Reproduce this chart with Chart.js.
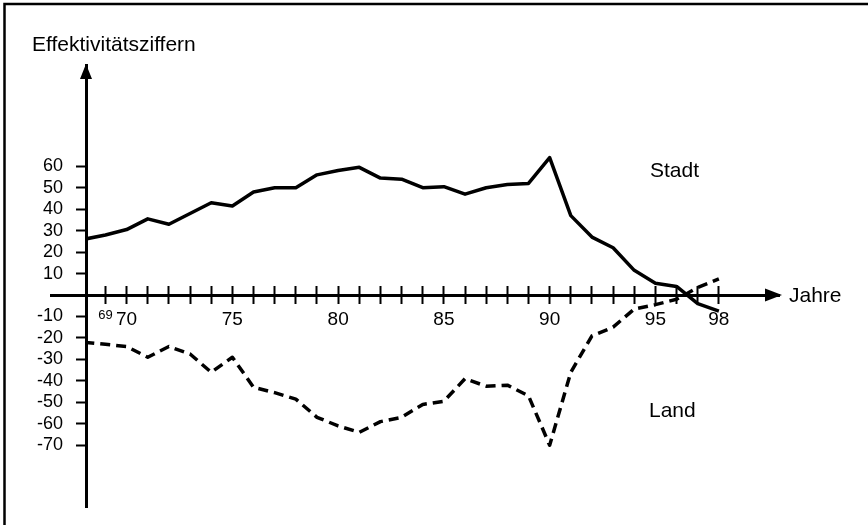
<!DOCTYPE html>
<html>
<head>
<meta charset="utf-8">
<script src="https://cdn.jsdelivr.net/npm/chart.js@4.4.0/dist/chart.umd.min.js"></script>
<style>
  html, body { margin: 0; padding: 0; background: #fff; }
  canvas { display: block; }
</style>
</head>
<body>
<canvas id="chart" width="868" height="525"></canvas>
<script>
// values (years 1968 - 1998)
var years = [68, 69, 70, 71, 72, 73, 74, 75, 76, 77, 78, 79, 80, 81, 82, 83,
             84, 85, 86, 87, 88, 89, 90, 91, 92, 93, 94, 95, 96, 97, 98];
var stadt = [26, 28, 30.5, 35.5, 33, 38, 43, 41.5, 48, 50, 50, 56, 58, 59.5, 54.5, 54,
             50, 50.5, 47, 50, 51.5, 52, 64, 37, 27, 22, 11.5, 5.5, 4, -4, -7.5];
var land = [-22, -23, -24, -29, -24, -27.5, -36, -29, -43, -45.5, -48.5, -57, -61, -64, -59, -57,
            -51, -49.5, -39, -42.5, -42, -47, -70, -36, -19, -15, -6.5, -4.5, -2, 3.5, 7.5];
var seriesNames = ['Stadt', 'Land'];

var xTicks = [69, 70, 71, 72, 73, 74, 75, 76, 77, 78, 79, 80, 81, 82, 83,
              84, 85, 86, 87, 88, 89, 90, 91, 92, 93, 94, 95, 96, 97, 98];
var xTickLabels = { 69: '69', 70: '70', 75: '75', 80: '80', 85: '85', 90: '90', 95: '95', 98: '98' };
var yTicks = [-70, -60, -50, -40, -30, -20, -10, 0, 10, 20, 30, 40, 50, 60];
var yTitle = 'Effektivitätsziffern';
var xTitle = 'Jahre';

var FONT = '"Liberation Sans", Arial, sans-serif';

function toPoints(vals) {
  var pts = [];
  for (var i = 0; i < years.length; i++) pts.push({ x: years[i], y: vals[i] });
  return pts;
}

function isZero(c) { return c.tick && c.tick.value === 0; }

var decorations = {
  id: 'decorations',
  beforeDraw: function(chart) {
    var ctx = chart.ctx;
    ctx.save();
    ctx.fillStyle = '#fff';
    ctx.fillRect(0, 0, chart.width, chart.height);
    ctx.strokeStyle = '#000';
    ctx.lineWidth = 2.5;
    ctx.beginPath();
    ctx.moveTo(4.5, chart.height);
    ctx.lineTo(4.5, 4);
    ctx.lineTo(chart.width, 4);
    ctx.stroke();
    ctx.restore();
  },
  afterDraw: function(chart) {
    var ctx = chart.ctx, area = chart.chartArea;
    var xs = chart.scales.x, ys = chart.scales.y;
    var ax = area.left;
    var ay = ys.getPixelForValue(0);
    ctx.save();
    ctx.fillStyle = '#000';
    // arrow heads
    ctx.beginPath();
    ctx.moveTo(ax, area.top - 1);
    ctx.lineTo(ax - 6, area.top + 14);
    ctx.lineTo(ax + 6, area.top + 14);
    ctx.closePath();
    ctx.fill();
    ctx.beginPath();
    ctx.moveTo(area.right + 2, ay);
    ctx.lineTo(area.right - 15, ay - 6.5);
    ctx.lineTo(area.right - 15, ay + 6.5);
    ctx.closePath();
    ctx.fill();
    // texts
    ctx.font = '21px ' + FONT;
    ctx.textBaseline = 'middle';
    ctx.textAlign = 'left';
    ctx.fillText(yTitle, ax - 54, area.top - 20);
    ctx.fillText(xTitle, area.right + 9, ay + 1);
    ctx.textAlign = 'center';
    ctx.fillText(seriesNames[0], xs.getPixelForValue(95.9), ys.getPixelForValue(57.8));
    ctx.fillText(seriesNames[1], xs.getPixelForValue(95.8), ys.getPixelForValue(-54));
    ctx.restore();
  }
};

Chart.defaults.font.family = FONT;
Chart.defaults.color = '#000';

var ctx = document.getElementById('chart').getContext('2d');
var chart = new Chart(ctx, {
  type: 'line',
  data: {
    datasets: [
      { label: seriesNames[0], data: toPoints(stadt), borderColor: '#000', borderWidth: 3.5,
        pointRadius: 0, tension: 0, borderJoinStyle: 'round', fill: false },
      { label: seriesNames[1], data: toPoints(land), borderColor: '#000', borderWidth: 3.5,
        borderDash: [10, 6], pointRadius: 0, tension: 0, borderJoinStyle: 'round', fill: false }
    ]
  },
  options: {
    responsive: false,
    animation: false,
    layout: { padding: { left: 0, right: 88, top: 65, bottom: 18 } },
    plugins: { legend: { display: false }, tooltip: { enabled: false } },
    scales: {
      x: {
        type: 'linear', min: 68.08, max: 100.89,
        position: { y: 0 },
        afterBuildTicks: function(s) { s.ticks = xTicks.map(function(v) { return { value: v }; }); },
        border: { display: false },
        grid: { drawOnChartArea: false, tickLength: 9, tickWidth: 2, tickColor: '#000' },
        ticks: {
          autoSkip: false, maxRotation: 0, padding: 4, color: '#000',
          callback: function(v) { return xTickLabels[v] || ''; },
          font: function(c) { return { size: (c.tick && c.tick.value === 69) ? 13 : 19 }; }
        }
      },
      x2: {
        type: 'linear', min: 68.08, max: 100.89,
        position: { y: 0 },
        afterBuildTicks: function(s) { s.ticks = xTicks.map(function(v) { return { value: v }; }); },
        border: { display: false },
        grid: { drawOnChartArea: false, tickLength: -9, tickWidth: 2, tickColor: '#000' },
        ticks: { autoSkip: false, maxRotation: 0, callback: function() { return ''; } }
      },
      y: {
        type: 'linear', min: -98.8, max: 107.2,
        position: 'left',
        afterBuildTicks: function(s) { s.ticks = yTicks.map(function(v) { return { value: v }; }); },
        afterFit: function(s) { s.width = 86; },
        border: { display: true, width: 3, color: '#000' },
        grid: {
          drawOnChartArea: true, tickLength: 36,
          color: function(c) { return isZero(c) ? '#000' : 'rgba(0,0,0,0)'; },
          lineWidth: function(c) { return isZero(c) ? 3 : 1; },
          tickColor: '#000',
          tickWidth: function(c) { return isZero(c) ? 3 : 2; },
          tickBorderDash: function(c) { return isZero(c) ? [] : [0, 26, 10, 100]; }
        },
        ticks: {
          padding: -13, color: '#000', font: { size: 18 },
          callback: function(v) { return v === 0 ? '' : String(v); }
        }
      }
    }
  },
  plugins: [decorations]
});
</script>
</body>
</html>
